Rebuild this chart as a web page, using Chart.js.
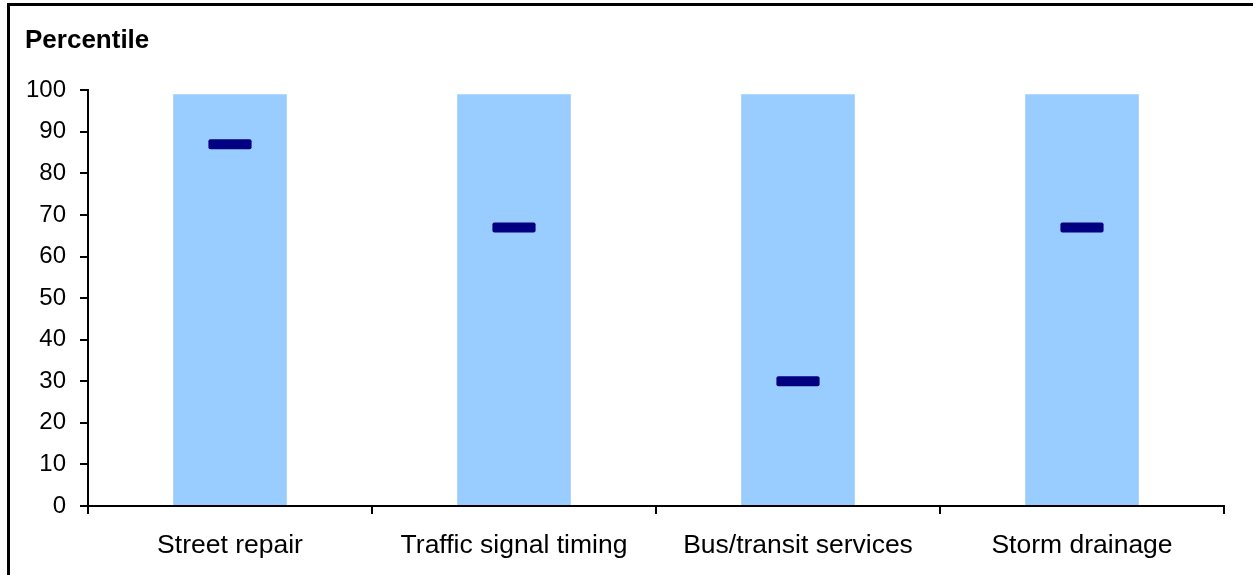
<!DOCTYPE html>
<html>
<head>
<meta charset="utf-8">
<script src="https://cdn.jsdelivr.net/npm/chart.js@4/dist/chart.umd.min.js"></script>
<style>
    html, body { margin: 0; padding: 0; background: #fff; overflow: hidden; }
    #wrap { position: relative; width: 1253px; height: 575px; }
    #frame {
        position: absolute; left: 7px; top: 3px; width: 1300px; height: 600px;
        border-left: 3px solid #000; border-top: 3px solid #000;
        pointer-events: none;
    }
</style>
</head>
<body>
<div id="wrap">
    <canvas id="percentileChart" width="1253" height="575"></canvas>
    <div id="frame"></div>
</div>
<script>
// Chart data
const categories = ["Street repair", "Traffic signal timing", "Bus/transit services", "Storm drainage"];
const rangeTop = [99, 99, 99, 99];          // light blue columns
const percentiles = [87, 67, 30, 67];       // dark markers
const yTicks = [0, 10, 20, 30, 40, 50, 60, 70, 80, 90, 100];

const markerHalf = 1.2; // half-height of the marker, in percentile units

Chart.defaults.font.family = "'Liberation Sans', Arial, sans-serif";
Chart.defaults.color = "#000";

const ctx = document.getElementById("percentileChart").getContext("2d");
const percentileChart = new Chart(ctx, {
    type: "bar",
    data: {
        labels: categories,
        datasets: [
            {
                label: "Percentile",
                data: percentiles.map(v => [v - markerHalf, v + markerHalf]),
                backgroundColor: "#000080",
                borderRadius: 2,
                borderSkipped: false,
                barPercentage: 0.152,
                categoryPercentage: 1,
                grouped: false,
                order: 0
            },
            {
                label: "Range",
                data: rangeTop,
                backgroundColor: "#99CCFF",
                barPercentage: 0.4,
                categoryPercentage: 1,
                grouped: false,
                order: 1
            }
        ]
    },
    options: {
        responsive: false,
        animation: false,
        layout: {
            padding: { top: 10, left: 25, right: 29, bottom: 0 }
        },
        plugins: {
            legend: { display: false },
            tooltip: { enabled: false },
            title: {
                display: true,
                text: "Percentile",
                align: "start",
                color: "#000",
                font: { size: 26, weight: "bold" },
                padding: { top: 15, bottom: 34 }
            }
        },
        scales: {
            x: {
                offset: true,
                grid: {
                    offset: true,
                    drawOnChartArea: false,
                    drawTicks: true,
                    tickLength: 8,
                    color: "#000",
                    lineWidth: 2
                },
                border: { display: true, color: "#000", width: 2 },
                ticks: {
                    font: { size: 26.5 },
                    padding: 16,
                    maxRotation: 0
                },
                afterFit: (scale) => { scale.height = 575 - 506; }
            },
            y: {
                min: 0,
                max: 100,
                afterBuildTicks: (scale) => {
                    scale.ticks = yTicks.map(v => ({ value: v }));
                },
                grid: {
                    drawOnChartArea: false,
                    drawTicks: true,
                    tickLength: 8,
                    color: "#000",
                    lineWidth: 2
                },
                border: { display: true, color: "#000", width: 2 },
                ticks: {
                    font: { size: 24 },
                    padding: 14
                },
                afterFit: (scale) => { scale.width = 88 - 25; }
            }
        }
    }
});
</script>
</body>
</html>
